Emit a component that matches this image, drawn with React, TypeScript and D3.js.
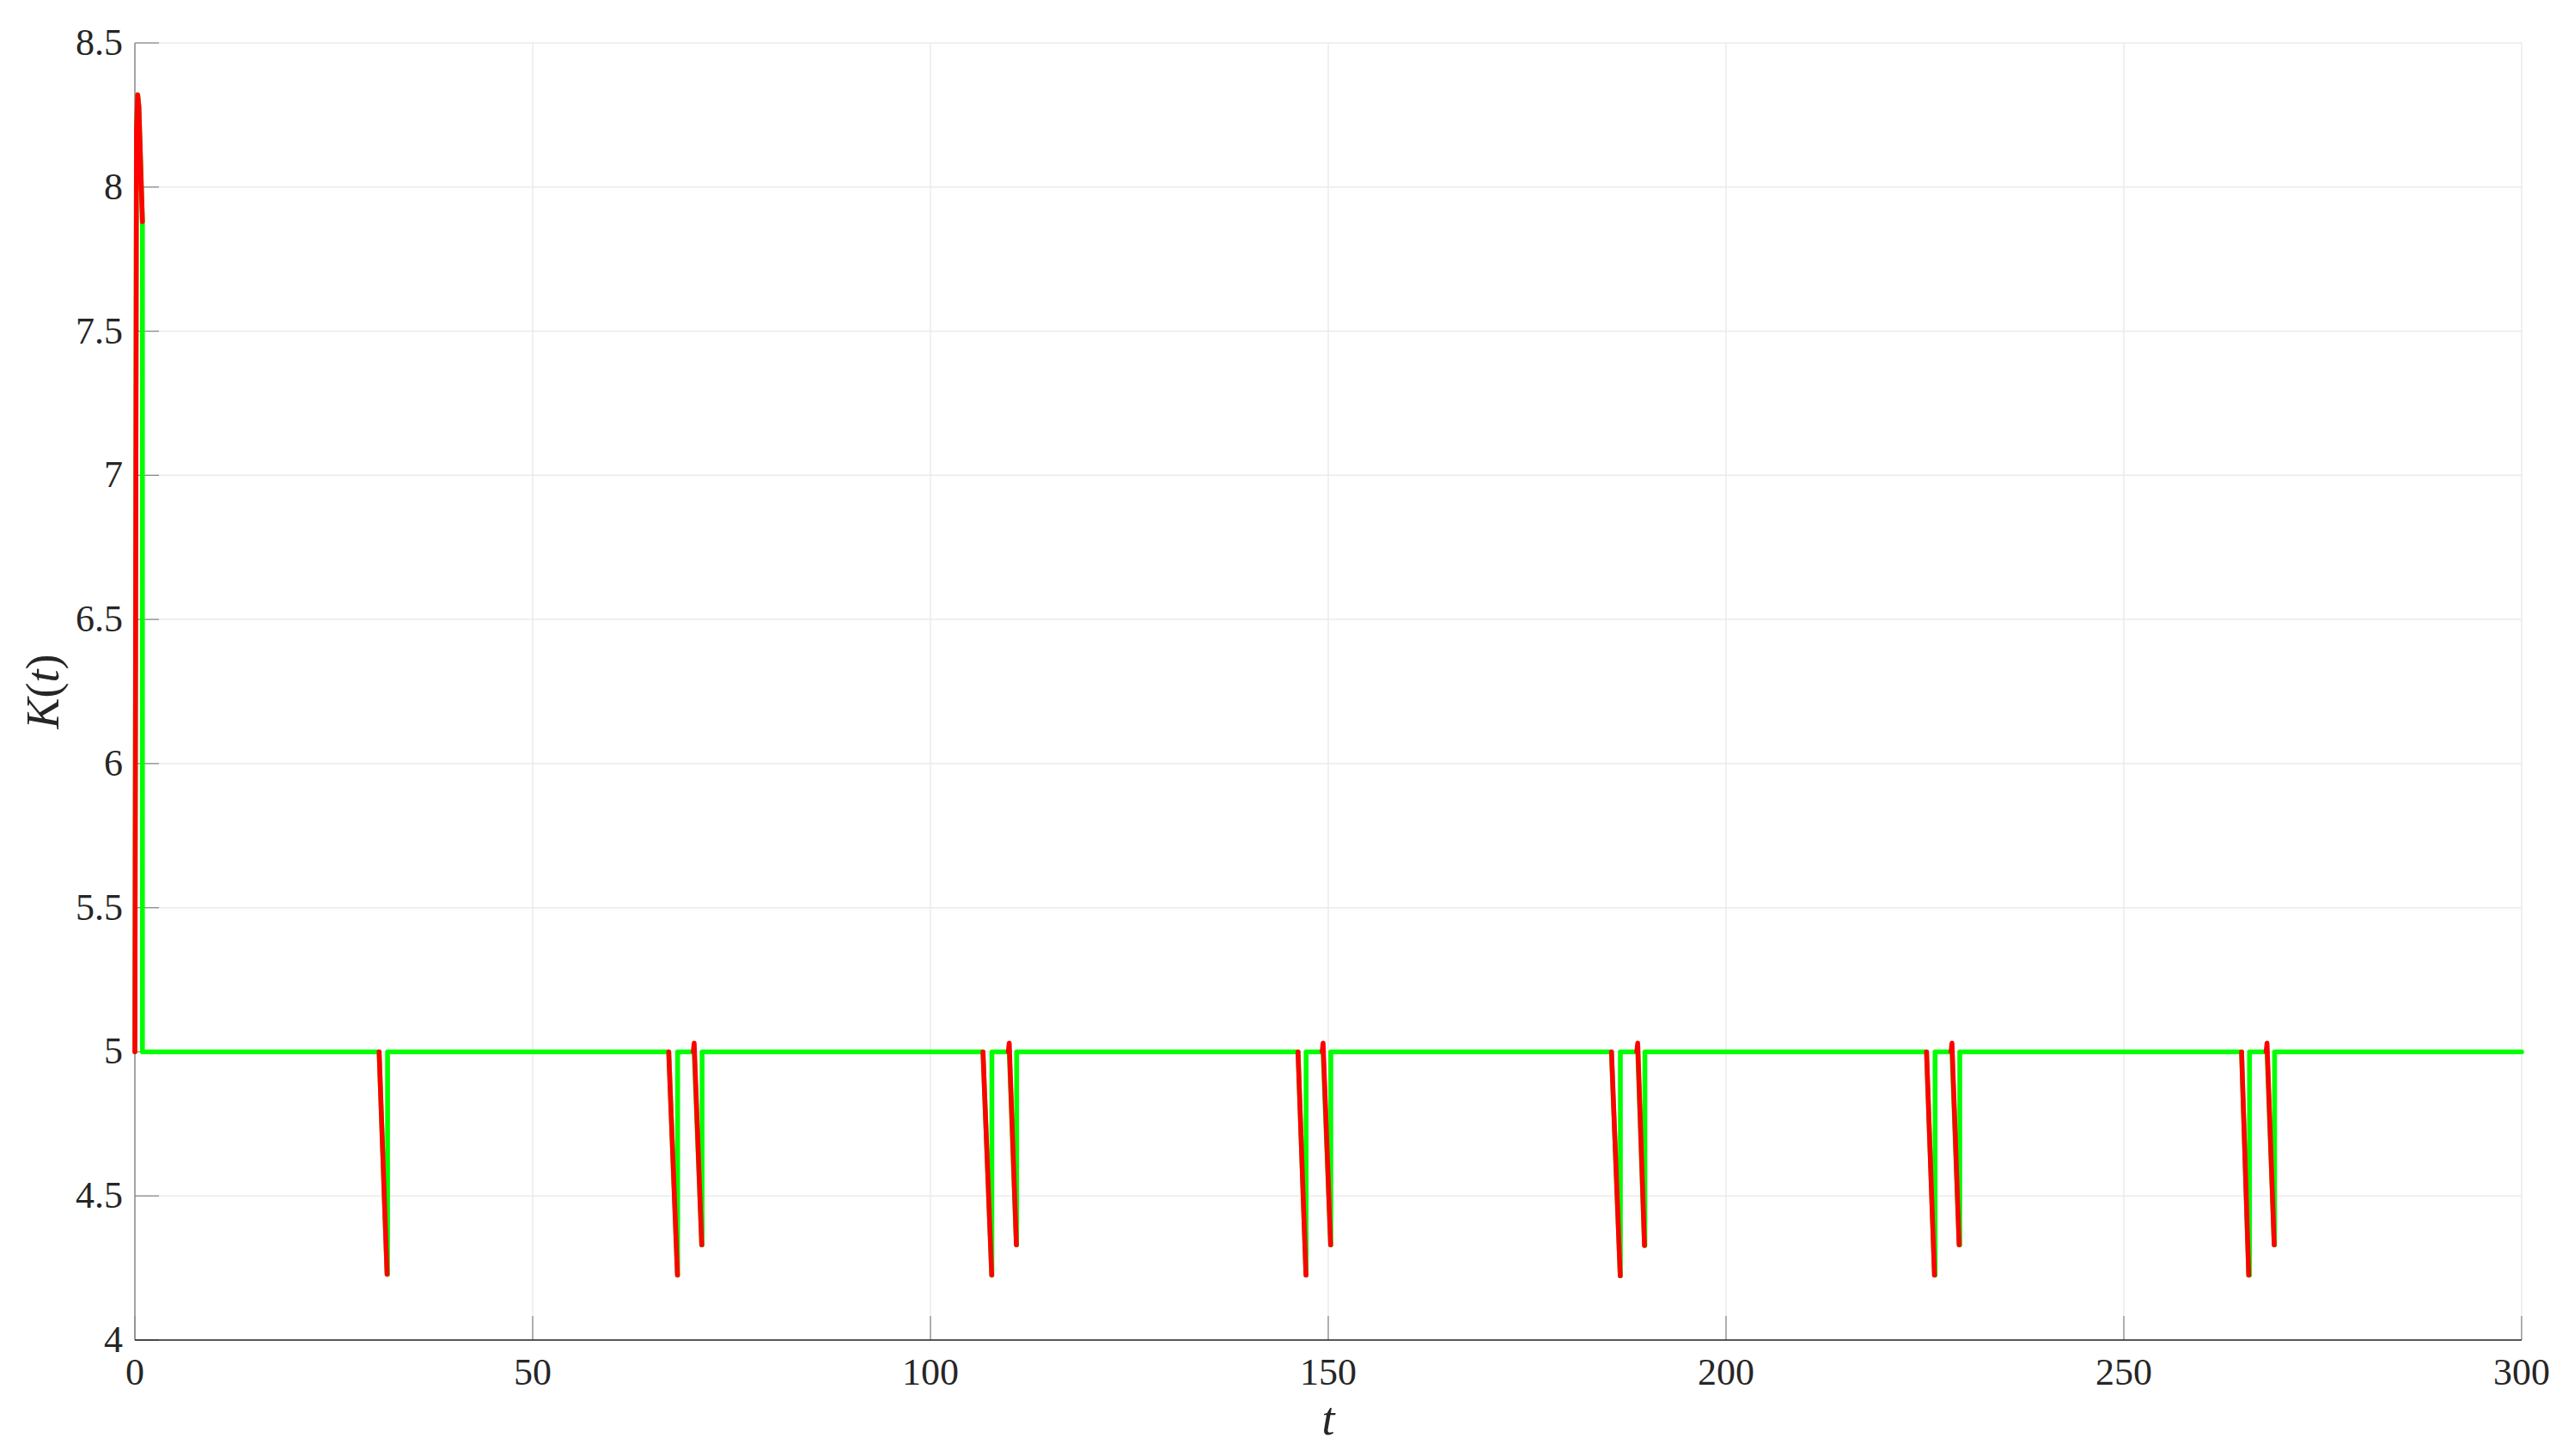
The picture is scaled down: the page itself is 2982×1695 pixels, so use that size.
import React from "react";
import * as d3 from "d3";

const W = 2982;
const H = 1695;

// axis ticks
const xTicks = [0, 50, 100, 150, 200, 250, 300];
const yTicks = [4, 4.5, 5, 5.5, 6, 6.5, 7, 7.5, 8, 8.5];
const yTickLabels = ["4", "4.5", "5", "5.5", "6", "6.5", "7", "7.5", "8", "8.5"];

// initial transient (red overshoot, green holds then drops)
const initT = [0, 0.2, 0.35, 0.5, 0.95];
const initK = [5.0, 8.2, 8.32, 8.28, 7.88];
const steadyK = 5;
const tEnd = 300;

// dips: start time/value, bottom time/value, green recovery time
const dipStartT = [30.7, 67.1, 70.3, 106.6, 109.9, 146.2, 149.35, 185.6, 188.9, 225.2, 228.4, 264.8, 268.0];
const dipStartK = [5.0, 5.0, 5.03, 5.0, 5.03, 5.0, 5.03, 5.0, 5.03, 5.0, 5.03, 5.0, 5.03];
const dipEndT = [31.7, 68.2, 71.25, 107.7, 110.8, 147.2, 150.3, 186.7, 189.75, 226.2, 229.3, 265.7, 268.9];
const dipEndK = [4.228, 4.225, 4.33, 4.225, 4.33, 4.225, 4.33, 4.223, 4.328, 4.225, 4.33, 4.225, 4.33];
const greenUpT = [31.76, 68.22, 71.3, 107.72, 110.83, 147.22, 150.32, 186.72, 189.8, 226.28, 229.38, 265.8, 268.95];

const M = { left: 157, right: 2935, top: 50, bottom: 1560 };

export default function App() {
  const x = d3.scaleLinear().domain([0, 300]).range([M.left, M.right]);
  const y = d3.scaleLinear().domain([4, 8.5]).range([M.bottom, M.top]);
  const line = d3
    .line<[number, number]>()
    .x((d) => x(d[0]))
    .y((d) => y(d[1]));

  // green series
  const green: [number, number][] = [];
  initT.forEach((t, i) => green.push([t, initK[i]]));
  green.push([initT[initT.length - 1], steadyK]);
  dipStartT.forEach((ts, i) => {
    green.push([ts, steadyK]);
    green.push([dipEndT[i], dipEndK[i]]);
    green.push([greenUpT[i], dipEndK[i]]);
    green.push([greenUpT[i], steadyK]);
  });
  green.push([tEnd, steadyK]);

  // red segments (visible only where it departs from green)
  const redSegs: [number, number][][] = [];
  redSegs.push(initT.map((t, i) => [t, initK[i]] as [number, number]));
  dipStartT.forEach((ts, i) => {
    const seg: [number, number][] = [];
    if (dipStartK[i] > steadyK) seg.push([ts - 0.12, steadyK]);
    seg.push([ts, dipStartK[i]]);
    seg.push([dipEndT[i], dipEndK[i]]);
    redSegs.push(seg);
  });

  const font = "'Liberation Serif', 'DejaVu Serif', serif";
  const gridC = "#ebebeb";
  const axisC = "#8c8c8c";
  const lw = 5.6;

  return (
    <svg
      width={W}
      height={H}
      style={{ position: "absolute", left: 0, top: 0, background: "#fff" }}
      fontFamily={font}
    >
      <rect x={0} y={0} width={W} height={H} fill="#fff" />
      {/* grid */}
      {xTicks.map((t) => (
        <line key={"gx" + t} x1={x(t)} x2={x(t)} y1={M.top} y2={M.bottom} stroke={gridC} strokeWidth={1.5} />
      ))}
      {yTicks.map((t) => (
        <line key={"gy" + t} x1={M.left} x2={M.right} y1={y(t)} y2={y(t)} stroke={gridC} strokeWidth={1.5} />
      ))}
      {/* ticks */}
      {xTicks.map((t) => (
        <line key={"tx" + t} x1={x(t)} x2={x(t)} y1={M.bottom} y2={M.bottom - 28} stroke={axisC} strokeWidth={1.3} />
      ))}
      {yTicks.map((t) => (
        <line key={"ty" + t} x1={M.left} x2={M.left + 28} y1={y(t)} y2={y(t)} stroke={axisC} strokeWidth={1.3} />
      ))}
      {/* axes */}
      <line x1={M.left} x2={M.left} y1={M.top} y2={M.bottom} stroke={axisC} strokeWidth={1.5} />
      <line x1={M.left} x2={M.right} y1={M.bottom} y2={M.bottom} stroke="#262626" strokeWidth={1.5} />

      {/* series */}
      <path d={line(green) || ""} fill="none" stroke="#00ff00" strokeWidth={lw} strokeLinejoin="round" strokeLinecap="round" />
      {redSegs.map((s, i) => (
        <path key={"r" + i} d={line(s) || ""} fill="none" stroke="#ff0000" strokeWidth={lw} strokeLinejoin="round" strokeLinecap="round" />
      ))}

      {/* tick labels */}
      {xTicks.map((t) => (
        <text key={"lx" + t} x={x(t)} y={M.bottom + 52} fontSize={44} textAnchor="middle" fill="#262626">
          {t}
        </text>
      ))}
      {yTicks.map((t, i) => (
        <text key={"ly" + t} x={M.left - 14} y={y(t) + 14} fontSize={44} textAnchor="end" fill="#262626">
          {yTickLabels[i]}
        </text>
      ))}
      {/* axis labels */}
      <text x={(M.left + M.right) / 2} y={1670} fontSize={54} fontStyle="italic" textAnchor="middle" fill="#262626">
        t
      </text>
      <text
        transform={`translate(68, ${(M.top + M.bottom) / 2}) rotate(-90)`}
        fontSize={54}
        textAnchor="middle"
        fill="#262626"
      >
        <tspan fontStyle="italic">K</tspan>
        <tspan>(</tspan>
        <tspan fontStyle="italic">t</tspan>
        <tspan>)</tspan>
      </text>
    </svg>
  );
}
